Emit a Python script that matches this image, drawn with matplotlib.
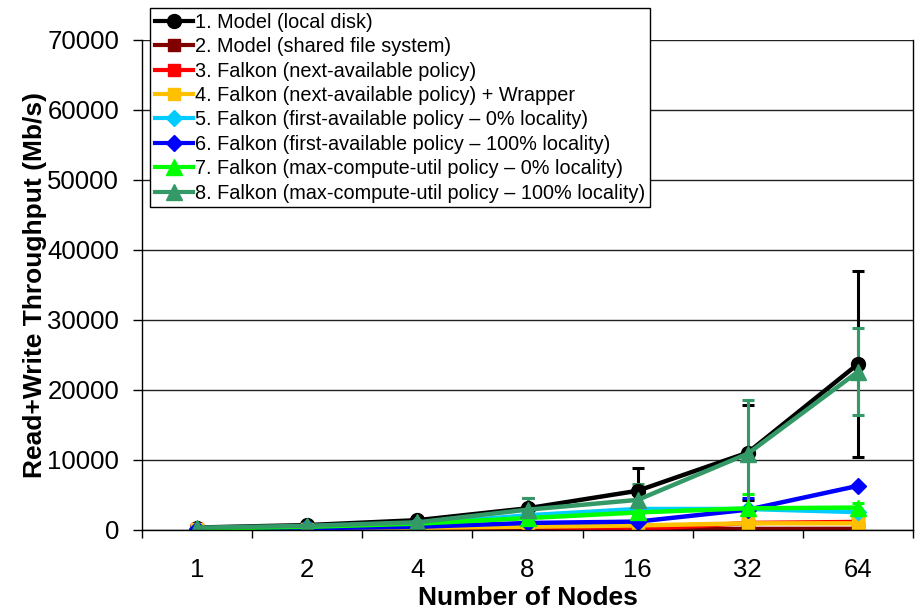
import numpy as np
import matplotlib.pyplot as plt
from matplotlib.lines import Line2D

plt.rcParams['font.family'] = ['Liberation Sans', 'DejaVu Sans']

nodes = ["1", "2", "4", "8", "16", "32", "64"]

labels = [
    "1. Model (local disk)",
    "2. Model (shared file system)",
    "3. Falkon (next-available policy)",
    "4. Falkon (next-available policy) + Wrapper",
    "5. Falkon (first-available policy \u2013 0% locality)",
    "6. Falkon (first-available policy \u2013 100% locality)",
    "7. Falkon (max-compute-util policy \u2013 0% locality)",
    "8. Falkon (max-compute-util policy \u2013 100% locality)",
]

model_local = [350, 700, 1400, 3100, 5600, 11050, 23700]
model_local_err = [50, 100, 200, 1450, 3300, 6800, 13300]
model_shared = [60, 80, 100, 120, 140, 150, 160]
model_shared_err = [0, 0, 0, 0, 0, 0, 0]
next_avail = [100, 150, 300, 450, 100, 1000, 1150]
next_avail_err = [0, 0, 0, 0, 0, 0, 0]
next_wrapper = [80, 150, 300, 470, 650, 950, 950]
next_wrapper_err = [0, 0, 0, 0, 0, 0, 0]
first_0 = [200, 400, 800, 2100, 3000, 3000, 2550]
first_0_err = [0, 0, 0, 0, 0, 0, 0]
first_100 = [150, 250, 450, 1000, 1200, 2900, 6300]
first_100_err = [0, 0, 0, 0, 0, 1700, 0]
maxc_0 = [200, 450, 900, 1700, 2500, 3100, 3200]
maxc_0_err = [0, 0, 0, 0, 0, 2000, 600]
maxc_100 = [330, 600, 1100, 2900, 4300, 10900, 22600]
maxc_100_err = [50, 100, 200, 1600, 2300, 7600, 6200]

series = [model_local, model_shared, next_avail, next_wrapper,
          first_0, first_100, maxc_0, maxc_100]
errors = [model_local_err, model_shared_err, next_avail_err, next_wrapper_err,
          first_0_err, first_100_err, maxc_0_err, maxc_100_err]
colors = ["#000000", "#800000", "#FF0000", "#FFC000",
          "#00CCFF", "#0000FF", "#00FF00", "#339966"]
markers = ["o", "s", "s", "s", "D", "D", "^", "^"]
msizes = [10, 9, 9, 9, 8, 8, 11, 11]

fig = plt.figure(figsize=(9.17, 6.11), dpi=100)
ax = fig.add_axes([0.155, 0.1326, 0.8406, 0.802])

x = np.arange(len(nodes))
handles = []
for s, e, c, m, ms, lab in zip(series, errors, colors, markers, msizes, labels):
    ax.errorbar(x, s, yerr=e, color=c, marker=m, markersize=ms, lw=3.2,
                elinewidth=2.2, capsize=4, capthick=2.2)
    handles.append(Line2D([], [], color=c, marker=m, markersize=ms, lw=3, label=lab))

ax.set_xlim(-0.5, 6.5)
ax.set_ylim(0, 70000)
ax.set_yticks(np.arange(0, 70001, 10000))
ax.set_xticks(x)
ax.set_xticklabels(nodes)
ax.set_xticks(np.arange(-0.5, 7, 1), minor=True)
ax.tick_params(axis='x', which='major', length=0, labelsize=18.5, pad=20)
ax.tick_params(axis='x', which='minor', length=6, width=1, direction='out')
ax.tick_params(axis='y', length=6.5, width=1, direction='out', labelsize=18.5, pad=10)
ax.grid(axis='y', color='#222222', lw=1)
ax.set_axisbelow(True)
ax.spines['top'].set_visible(False)
for sp in ['left', 'right', 'bottom']:
    ax.spines[sp].set_linewidth(1)

ax.set_xlabel("Number of Nodes", fontsize=19, fontweight='bold', labelpad=3)
ax.set_ylabel("Read+Write Throughput (Mb/s)", fontsize=19, fontweight='bold')
ax.yaxis.set_label_coords(-0.124, 0.5)

leg = ax.legend(handles=handles, loc='upper left',
                bbox_to_anchor=(150 / 917, 1 - 8 / 611),
                bbox_transform=fig.transFigure, fontsize=14.3, frameon=True,
                fancybox=False, edgecolor='black', framealpha=1,
                labelspacing=0.27, handlelength=1.9, handletextpad=0.1,
                borderpad=0.25, borderaxespad=0)
leg.get_frame().set_linewidth(1)

fig.savefig("out.png", dpi=100)
